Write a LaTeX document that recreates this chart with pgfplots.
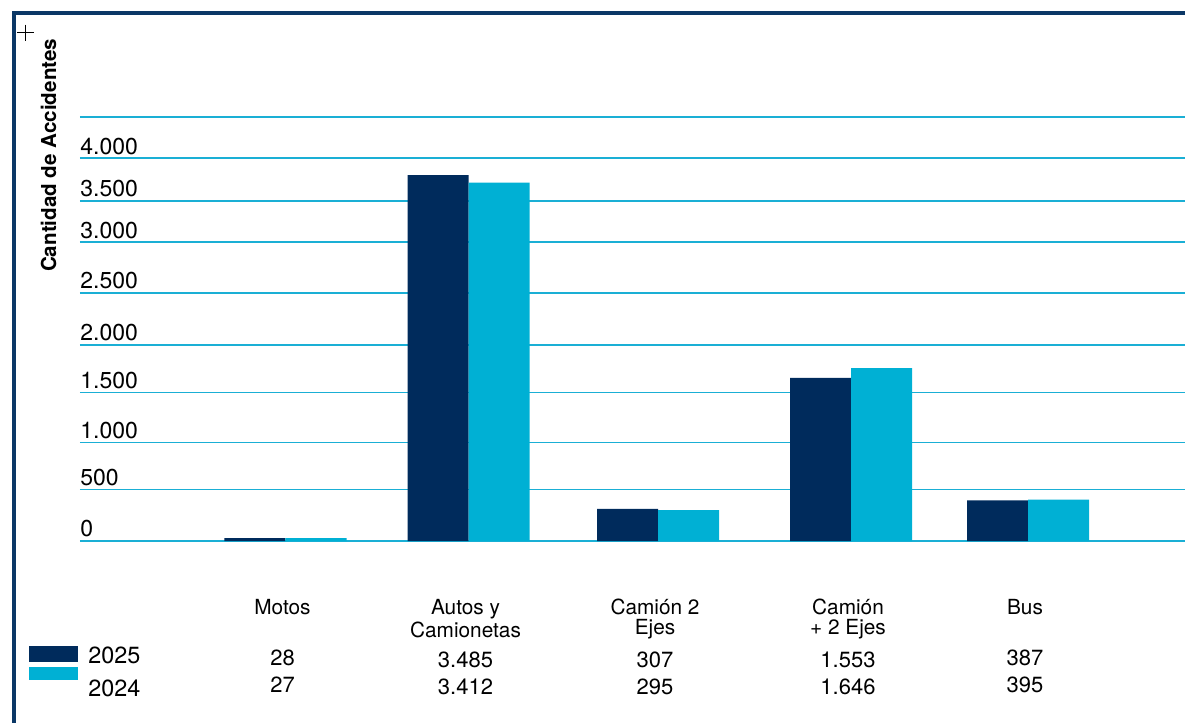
\documentclass[border=0pt]{standalone}
\usepackage{pgfplots}
\pgfplotsset{compat=1.18}
\usepackage{fontspec}
\setmainfont{TeX Gyre Heros}

\definecolor{navy}{HTML}{002B5C}
\definecolor{cyanb}{HTML}{00B0D4}
\definecolor{gridc}{HTML}{1AAFD5}
\definecolor{framec}{HTML}{0B3766}

% one category label: name (two lines) and the two values below
\newcommand{\valfont}{\fontsize{11}{10}\selectfont}
\newcommand{\lab}[4]{\rule{0pt}{9pt}#1\\#2\\[5.15pt]{\valfont #3}\\[3.7pt]{\valfont #4}}

\begin{document}
\begin{tikzpicture}
\path[use as bounding box] (0,0) rectangle (592.5pt,-361.5pt);
% frame and the small plus sign
\draw[framec, line width=1.6pt] (7pt,-361.5pt) |- (592.5pt,-6.5pt);
\draw[black, line width=0.8pt] (8.5pt,-16.25pt) -- (17pt,-16.25pt) (12.75pt,-12.25pt) -- (12.75pt,-20.25pt);

\begin{axis}[
  at={(40pt,-270.5pt)}, anchor=south west,
  scale only axis, width=552.5pt, height=212.15pt,
  xmin=80, xmax=1185, ymin=0, ymax=4041,
  ybar, bar width=30.5pt,
  axis line style={draw=none},
  tick style={draw=none},
  ymajorgrids, grid style={gridc, line width=0.8pt},
  ytick={0,492,940,1416,1867,2362,2845,3238,3645,4041},
  yticklabels={0,500,1.000,1.500,2.000,2.500,3.000,3.500,4.000,{}},
  yticklabel style={anchor=base west, inner sep=0pt, yshift=2.1pt, font=\fontsize{11.5}{12}\selectfont},
  xtick={285.5,468.5,658,851,1028},
  xticklabels={
    {\lab{Motos}{~}{28}{27}},
    {\lab{Autos y}{Camionetas}{3.485}{3.412}},
    {\lab{Camión 2}{Ejes}{307}{295}},
    {\lab{Camión}{+ 2 Ejes}{1.553}{1.646}},
    {\lab{Bus}{~}{387}{395}}},
  xticklabel style={anchor=north, inner sep=0pt, yshift=-23.5pt, xshift=-1.5pt, align=center, font=\fontsize{10.4}{10}\selectfont},
  ylabel={Cantidad de Accidentes},
  ylabel style={at={(axis description cs:-0.0285,0.909)}, anchor=center, font=\bfseries\fontsize{10.3}{12}\selectfont},
  legend style={at={(axis description cs:-0.04615,-0.2475)}, anchor=north west,
    draw=none, fill=none, inner sep=0pt, row sep=6.8pt,
    font=\fontsize{11.7}{12}\selectfont, nodes={inner sep=0pt}},
  legend cell align=left,
  clip=false,
]
\addplot[fill=navy, draw=none, bar shift=-15.25pt,
  legend image code/.code={\path[draw=none, fill=none] (0pt,0pt) -- (29.5pt,0pt);
    \fill[navy, overlay] (0pt,-2.85pt) rectangle (24.5pt,5pt);}]
  coordinates {(285.5,28) (468.5,3485) (658,307) (851,1553) (1028,387)};
\addplot[fill=cyanb, draw=none, bar shift=15.25pt,
  legend image code/.code={\path[draw=none, fill=none] (0pt,0pt) -- (29.5pt,0pt);
    \fill[cyanb, overlay] (0pt,4.65pt) rectangle (24.5pt,11.35pt);}]
  coordinates {(285.5,27) (468.5,3412) (658,295) (851,1646) (1028,395)};
\legend{2025,2024}
\end{axis}
\end{tikzpicture}
\end{document}
